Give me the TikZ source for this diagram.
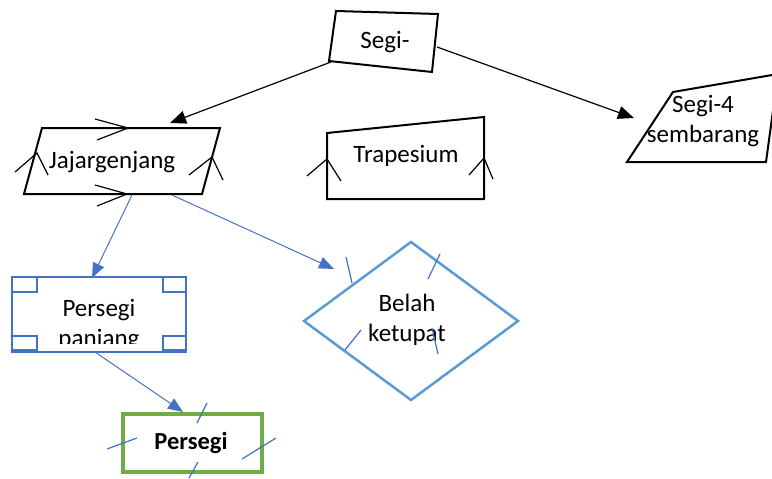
\documentclass[tikz,border=0pt]{standalone}
\usepackage{fontspec}
\setmainfont{Carlito}
\usetikzlibrary{arrows.meta}
\definecolor{accblue}{HTML}{4472C4}
\definecolor{lightblue}{HTML}{5B9BD5}
\definecolor{leafgreen}{HTML}{70AD47}
\tikzset{
  lbl/.style={inner sep=0pt, align=center, font=\fontsize{25}{30}\selectfont},
  blackedge/.style={draw=black, line width=2pt, line join=miter},
  blackarrow/.style={draw=black, line width=1.2pt, -{Triangle[length=16pt,width=13pt]}},
  bluearrow/.style={draw=accblue, line width=1pt, -{Triangle[length=15pt,width=12pt]}},
  tick/.style={draw=black, line width=1.2pt},
  bluetick/.style={draw=accblue, line width=1.2pt},
}
\begin{document}
\begin{tikzpicture}[x=1pt,y=-1pt]
\useasboundingbox (0,0) rectangle (772,479);
\clip (0,0) rectangle (772,479);

% ---- Segi- (slanted quadrilateral) ----
\draw[blackedge] (336,11) -- (438,14) -- (432,72) -- (329,61) -- cycle;
\node[lbl] (segi) at (385,42) {Segi-};
\coordinate (segiL) at (331,62);
\coordinate (segiR) at (437,47);

% ---- Jajargenjang (parallelogram with parallel marks) ----
\draw[blackedge] (42,128) -- (220,128) -- (202,194) -- (24,194) -- cycle;
\node[lbl] (jajar) at (112,162) {Jajargenjang};
\coordinate (jajarTop) at (170,123);
\coordinate (jajarB1) at (132,195);
\coordinate (jajarB2) at (172,195);
\draw[tick] (95,119) -- (128,128) -- (97,140);
\draw[tick] (95,185) -- (127,194) -- (97,206);
\draw[tick] (15,172) -- (37,153) -- (48,175);
\draw[tick] (189,175) -- (212,157) -- (223,180);

% ---- Trapesium ----
\draw[blackedge] (327,133) -- (484,117) -- (484,199) -- (327,199) -- cycle;
\node[lbl] (trap) at (406,156) {Trapesium};
\draw[tick] (307,176) -- (327,159) -- (341,181);
\draw[tick] (469,175) -- (484,158) -- (493,179);

% ---- Segi-4 sembarang ----
\draw[blackedge] (673,92) -- (778,74) -- (766,162) -- (627,162) -- cycle;
\node[lbl] (sembarang) at (703,121) {Segi-4\\sembarang};
\coordinate (sembL) at (634,118);

% ---- Persegi panjang (blue frame with corner boxes) ----
\draw[draw=accblue, line width=2.5pt] (12,277) rectangle (186,352);
\begin{scope}[draw=accblue, line width=2pt]
  \draw (12,277) rectangle (37,292);
  \draw (163,277) rectangle (186,292);
  \draw (12,336) rectangle (37,350);
  \draw (163,336) rectangle (186,350);
\end{scope}
\begin{scope}
  \clip (40,280) rectangle (160,343.5);
  \node[lbl] (ppanjang) at (99,325) {Persegi\\panjang};
\end{scope}
\coordinate (ppTop) at (92,278);
\coordinate (ppBot) at (95,352);

% ---- Belah ketupat (rhombus) ----
\draw[draw=lightblue, line width=2.5pt] (411,242) -- (518,321) -- (411,400) -- (304,321) -- cycle;
\node[lbl] (belah) at (407,320) {Belah\\ketupat};
\coordinate (belahNW) at (334,269);
\draw[bluetick] (346,257) -- (352,283);
\draw[bluetick] (440,254) -- (428,279);
\draw[bluetick] (361,330) -- (345,350);
\draw[bluetick] (432,328) -- (438,354);

% ---- Persegi (green square) ----
\draw[draw=leafgreen, line width=4pt] (123,414) rectangle (262,472);
\node[lbl, font=\fontsize{24.5}{30}\selectfont\bfseries] (persegi) at (191,443) {Persegi};
\coordinate (persegiTop) at (183,412);
\draw[bluetick] (207,403) -- (197,423);
\draw[bluetick] (107,449) -- (137,438);
\draw[bluetick] (276,438) -- (242,459);
\draw[bluetick] (198,462) -- (189,478);

% ---- connectors ----
\draw[blackarrow] (segiL) -- (jajarTop);
\draw[blackarrow] (segiR) -- (sembL);
\draw[bluearrow] (jajarB1) -- (ppTop);
\draw[bluearrow] (jajarB2) -- (belahNW);
\draw[bluearrow] (ppBot) -- (persegiTop);
\end{tikzpicture}
\end{document}
